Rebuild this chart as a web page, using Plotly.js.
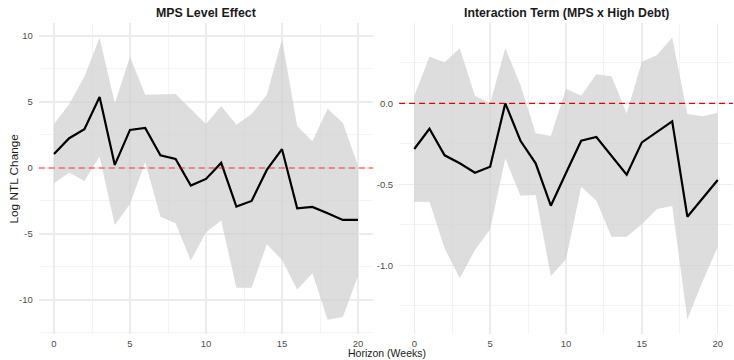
<!DOCTYPE html>
<html>
<head>
<meta charset="utf-8">
<script src="https://cdn.plot.ly/plotly-3.0.1.min.js"></script>
<style>html,body{margin:0;padding:0;background:#fff;}#chart{width:734px;height:360px;}</style>
</head>
<body>
<div id="chart"></div>
<script>
const horizon = [0,1,2,3,4,5,6,7,8,9,10,11,12,13,14,15,16,17,18,19,20];

// MPS Level Effect
const levelEst   = [1.06,2.25,2.93,5.38,0.23,2.88,3.03,0.96,0.68,-1.34,-0.83,0.38,-2.93,-2.5,-0.15,1.42,-3.06,-2.95,-3.43,-3.94,-3.94];
const levelUpper = [3.33,4.82,6.92,9.87,4.9,8.43,5.55,5.58,5.6,4.47,3.33,4.7,3.28,4.09,5.53,9.77,3.18,2.02,4.49,3.43,0.17];
const levelLower = [-1.16,-0.35,-0.98,0.86,-4.32,-2.73,0.43,-3.69,-4.19,-7.02,-4.87,-3.99,-9.07,-9.07,-5.78,-6.97,-9.2,-7.98,-11.5,-11.3,-8.18];

// Interaction Term (MPS x High Debt)
const interEst   = [-0.282,-0.157,-0.321,-0.37,-0.428,-0.391,0.0,-0.231,-0.37,-0.632,-0.43,-0.231,-0.208,-0.325,-0.44,-0.241,-0.177,-0.111,-0.70,-0.587,-0.473];
const interUpper = [0.047,0.288,0.253,0.34,0.047,0.0,0.34,0.113,-0.185,-0.202,0.09,0.047,0.179,0.167,-0.062,0.257,0.298,0.407,-0.066,-0.08,-0.058];
const interLower = [-0.609,-0.607,-0.895,-1.08,-0.905,-0.778,-0.34,-0.57,-0.566,-1.066,-0.963,-0.515,-0.601,-0.823,-0.823,-0.747,-0.652,-0.634,-1.333,-1.1,-0.885];

const panelTitles = ["MPS Level Effect", "Interaction Term (MPS x High Debt)"];
const xTitle = "Horizon (Weeks)";
const yTitle = "Log NTL Change";
const xTicks = [0,5,10,15,20];
const yTicksLeft = [-10,-5,0,5,10];
const yTicksRight = [-1.0,-0.5,0.0];

const W = 734, H = 360;
const px = v => v / W;
const py = v => 1 - v / H;

const bandFill = "rgba(205,205,205,0.68)";

function band(x, lo, hi, xa, ya) {
  return [
    {x: x, y: lo, xaxis: xa, yaxis: ya, type: "scatter", mode: "lines",
     line: {width: 0, color: "rgba(0,0,0,0)"}, hoverinfo: "skip", showlegend: false},
    {x: x, y: hi, xaxis: xa, yaxis: ya, type: "scatter", mode: "lines", fill: "tonexty",
     fillcolor: bandFill, line: {width: 0, color: "rgba(0,0,0,0)"}, hoverinfo: "skip", showlegend: false}
  ];
}

const traces = [
  ...band(horizon, levelLower, levelUpper, "x", "y"),
  {x: horizon, y: levelEst, xaxis: "x", yaxis: "y", type: "scatter", mode: "lines",
   line: {color: "#000", width: 2.2}, showlegend: false},
  ...band(horizon, interLower, interUpper, "x2", "y2"),
  {x: horizon, y: interEst, xaxis: "x2", yaxis: "y2", type: "scatter", mode: "lines",
   line: {color: "#000", width: 2.2}, showlegend: false}
];

const gridMajor = "#ececec", gridMinor = "#f4f4f4";
const FONT = "Liberation Sans, Arial, sans-serif";
const tickFont = {family: FONT, size: 9.5, color: "#4d4d4d"};

function xaxisCfg(domain) {
  return {domain: domain, range: [-1, 21], tickmode: "array", tickvals: xTicks, ticktext: xTicks.map(String),
    showgrid: true, gridcolor: gridMajor, gridwidth: 1.5, zeroline: false, showline: false,
    ticks: "", tickfont: tickFont, ticklabelstandoff: 2,
    minor: {tickmode: "array", tickvals: [2.5,7.5,12.5,17.5], showgrid: true, gridcolor: gridMinor, gridwidth: 1},
    fixedrange: true, automargin: false};
}
function yaxisCfg(anchor, range, tickvals, ticktext, minorVals) {
  return {domain: [py(334), py(23)], anchor: anchor, range: range, tickmode: "array", tickvals: tickvals, ticktext: ticktext,
    showgrid: true, gridcolor: gridMajor, gridwidth: 1.5, zeroline: false, showline: false,
    ticks: "", tickfont: tickFont, ticklabelstandoff: 5,
    minor: {tickmode: "array", tickvals: minorVals, showgrid: true, gridcolor: gridMinor, gridwidth: 1},
    fixedrange: true, automargin: false};
}

const layout = {
  width: W, height: H,
  margin: {l: 0, r: 0, t: 0, b: 0},
  paper_bgcolor: "#fff", plot_bgcolor: "#fff",
  showlegend: false,
  xaxis: xaxisCfg([px(38.8), px(373.2)]),
  yaxis: yaxisCfg("x", [-12.58, 10.98], yTicksLeft, yTicksLeft.map(String), [-12.5,-7.5,-2.5,2.5,7.5]),
  xaxis2: Object.assign(xaxisCfg([px(399.1), px(732.9)]), {anchor: "y2"}),
  yaxis2: yaxisCfg("x2", [-1.424, 0.496], yTicksRight, yTicksRight.map(v => v.toFixed(1)), [-1.25,-0.75,-0.25,0.25]),
  shapes: [
    {type: "line", xref: "x domain", yref: "y", x0: 0, x1: 1, y0: 0, y1: 0,
     line: {color: "rgba(255,0,0,0.5)", width: 1.6, dash: "6px,4px"}},
    {type: "line", xref: "x2 domain", yref: "y2", x0: 0, x1: 1, y0: 0, y1: 0,
     line: {color: "#e00000", width: 1.2, dash: "6px,4px"}}
  ],
  annotations: [
    {text: "<b>" + panelTitles[0] + "</b>", xref: "paper", yref: "paper", x: px(206), y: py(13),
     xanchor: "center", yanchor: "middle", showarrow: false,
     font: {family: FONT, size: 12.4, color: "#1a1a1a"}},
    {text: "<b>" + panelTitles[1] + "</b>", xref: "paper", yref: "paper", x: px(566), y: py(13),
     xanchor: "center", yanchor: "middle", showarrow: false,
     font: {family: FONT, size: 12.3, color: "#1a1a1a"}},
    {text: xTitle, xref: "paper", yref: "paper", x: px(386.5), y: 0,
     xanchor: "center", yanchor: "bottom", showarrow: false, borderpad: 0,
     font: {family: FONT, size: 10.5, color: "#1a1a1a"}},
    {text: yTitle, xref: "paper", yref: "paper", x: px(13), y: py(178.5), textangle: -90,
     xanchor: "center", yanchor: "middle", showarrow: false,
     font: {family: FONT, size: 11.8, color: "#1a1a1a"}}
  ]
};

Plotly.newPlot("chart", traces, layout, {staticPlot: true, displayModeBar: false});
</script>
</body>
</html>
